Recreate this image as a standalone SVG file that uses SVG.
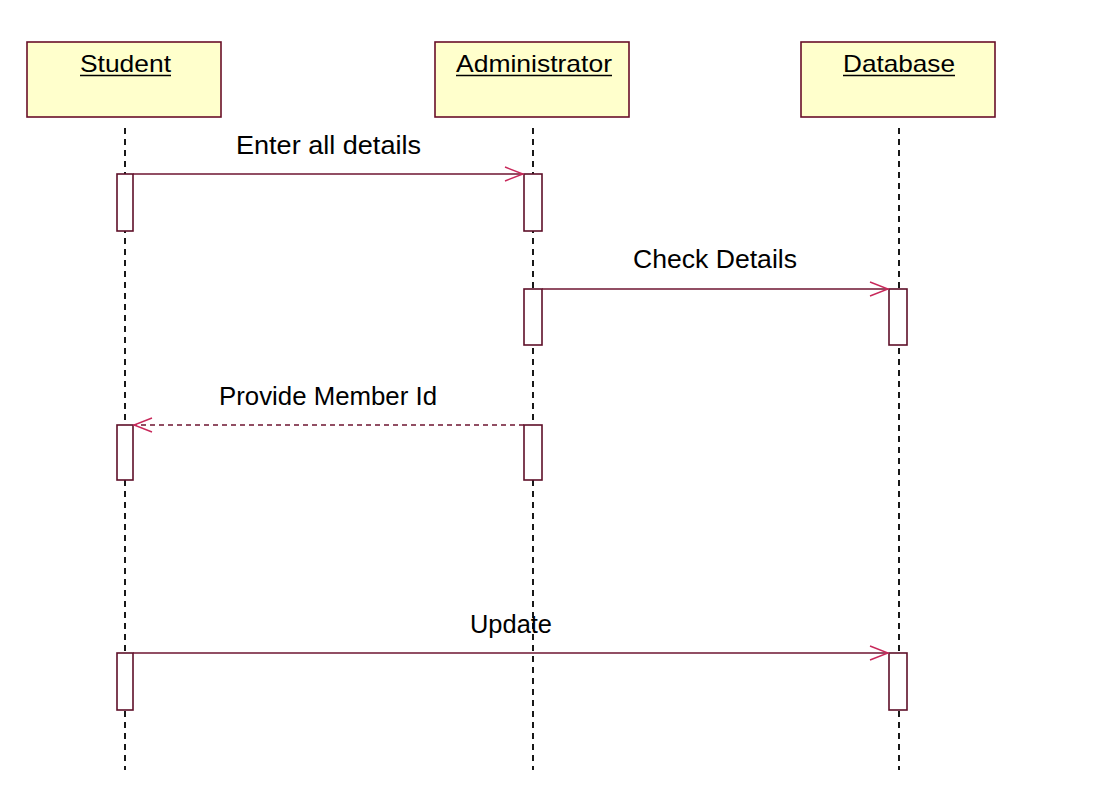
<svg xmlns="http://www.w3.org/2000/svg" width="1110" height="799" viewBox="0 0 1110 799">
<style>
.hdr{fill:#ffffcc;stroke:#6a1028;stroke-width:1.6}
.hl{font-family:"Liberation Sans",Arial,sans-serif;font-size:24px;fill:#000}
.ul{stroke:#000;stroke-width:1.5}
.life{stroke:#000;stroke-width:1.8;stroke-dasharray:6 5;fill:none}
.act{fill:#fff;stroke:#5e0f28;stroke-width:1.6}
.msg{stroke:#6e1430;stroke-width:1.7;fill:none}
.ret{stroke:#6e1430;stroke-width:1.3;stroke-dasharray:5 4;fill:none}
.lbl{font-family:"Liberation Sans",Arial,sans-serif;font-size:25px;fill:#000}
</style>
<defs>
<marker id="open" markerWidth="22" markerHeight="16" refX="19" refY="8" orient="auto" markerUnits="userSpaceOnUse">
<path d="M1,1 L19,8 L1,15" fill="none" stroke="#c8285a" stroke-width="1.4"/>
</marker>
</defs>
<rect width="1110" height="799" fill="#fff"/>
<g id="student">
<rect class="hdr" x="27" y="42" width="194" height="75"/>
<text class="hl" x="80" y="72" textLength="91" lengthAdjust="spacingAndGlyphs">Student</text>
<line class="ul" x1="80" y1="75.5" x2="171" y2="75.5"/>
<line class="life" x1="125" y1="128" x2="125" y2="770"/>
<rect class="act" x="117" y="174" width="16" height="57"/>
<rect class="act" x="117" y="425" width="16" height="55"/>
<rect class="act" x="117" y="653" width="16" height="57"/>
</g>
<g id="administrator">
<rect class="hdr" x="435" y="42" width="194" height="75"/>
<text class="hl" x="456" y="72" textLength="156" lengthAdjust="spacingAndGlyphs">Administrator</text>
<line class="ul" x1="456" y1="75.5" x2="612" y2="75.5"/>
<line class="life" x1="533" y1="128" x2="533" y2="770"/>
<rect class="act" x="524" y="174" width="18" height="57"/>
<rect class="act" x="524" y="289" width="18" height="56"/>
<rect class="act" x="524" y="425" width="18" height="55"/>
</g>
<g id="database">
<rect class="hdr" x="801" y="42" width="194" height="75"/>
<text class="hl" x="843" y="72" textLength="112" lengthAdjust="spacingAndGlyphs">Database</text>
<line class="ul" x1="843" y1="75.5" x2="955" y2="75.5"/>
<line class="life" x1="899" y1="128" x2="899" y2="770"/>
<rect class="act" x="889" y="289" width="18" height="56"/>
<rect class="act" x="889" y="653" width="18" height="57"/>
</g>
<g id="connectors">
<line class="msg" x1="133" y1="174" x2="523" y2="174" marker-end="url(#open)"/>
<text class="lbl" x="236" y="154" textLength="185" lengthAdjust="spacingAndGlyphs">Enter all details</text>
<line class="msg" x1="542" y1="289" x2="888" y2="289" marker-end="url(#open)"/>
<text class="lbl" x="633" y="268" textLength="164" lengthAdjust="spacingAndGlyphs">Check Details</text>
<line class="ret" x1="524" y1="425" x2="134" y2="425" marker-end="url(#open)"/>
<text class="lbl" x="219" y="405" textLength="218" lengthAdjust="spacingAndGlyphs">Provide Member Id</text>
<line class="msg" x1="133" y1="653" x2="888" y2="653" marker-end="url(#open)"/>
<text class="lbl" x="470" y="633" textLength="82" lengthAdjust="spacingAndGlyphs">Update</text>
</g>
</svg>
